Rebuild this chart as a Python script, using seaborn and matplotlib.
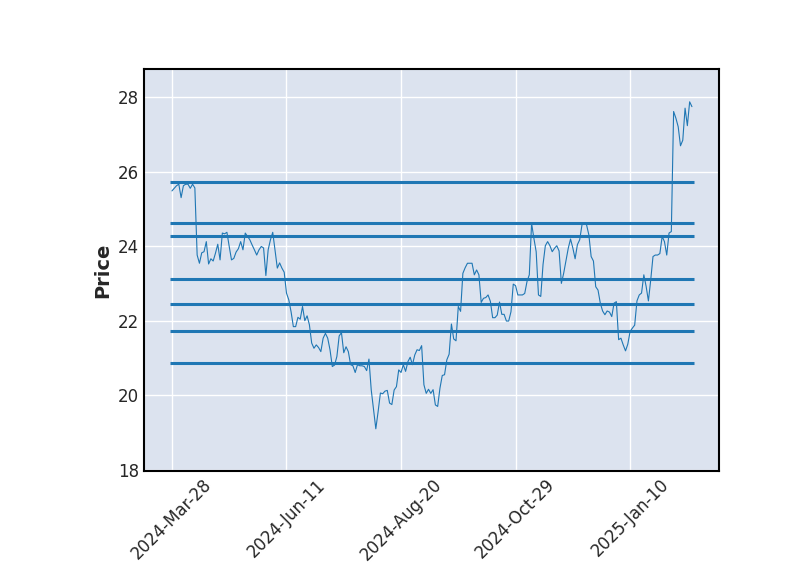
import matplotlib
matplotlib.use("Agg")
import matplotlib.pyplot as plt
import seaborn as sns
import numpy as np
import pandas as pd

# ---- data ----
prices = [
    25.48, 25.55, 25.62, 25.66, 25.30, 25.62, 25.66, 25.66, 25.55, 25.66,
    25.56, 23.76, 23.54, 23.82, 23.85, 24.12, 23.52, 23.66, 23.60, 23.81,
    24.05, 23.63, 24.35, 24.33, 24.37, 23.99, 23.63, 23.67, 23.84, 23.93,
    24.12, 23.90, 24.35, 24.26, 24.17, 24.03, 23.90, 23.76, 23.90, 23.99,
    23.95, 23.21, 23.90, 24.17, 24.37, 23.90, 23.41, 23.55, 23.41, 23.30,
    22.74, 22.56, 22.24, 21.84, 21.84, 22.09, 22.04, 22.38, 22.00, 22.13,
    21.89, 21.40, 21.26, 21.35, 21.28, 21.17, 21.53, 21.66, 21.53, 21.22,
    20.77, 20.81, 21.04, 21.59, 21.68, 21.14, 21.30, 21.17, 20.82, 20.79,
    20.61, 20.82, 20.79, 20.79, 20.77, 20.66, 20.97, 20.14, 19.61, 19.10,
    19.56, 20.06, 20.04, 20.11, 20.13, 19.79, 19.75, 20.14, 20.23, 20.68,
    20.61, 20.82, 20.64, 20.90, 21.02, 20.82, 21.08, 21.22, 21.20, 21.33,
    20.28, 20.05, 20.16, 20.05, 20.15, 19.74, 19.70, 20.19, 20.53, 20.55,
    20.95, 21.10, 21.91, 21.51, 21.46, 22.38, 22.25, 23.27, 23.42, 23.54,
    23.54, 23.54, 23.23, 23.36, 23.23, 22.49, 22.60, 22.62, 22.69, 22.52,
    22.08, 22.08, 22.15, 22.50, 22.17, 22.17, 21.99, 21.99, 22.24, 22.98,
    22.94, 22.69, 22.69, 22.69, 22.73, 23.05, 23.23, 24.61, 24.21, 23.85,
    22.69, 22.65, 23.51, 24.01, 24.12, 24.01, 23.85, 23.94, 24.01, 23.87,
    23.00, 23.27, 23.60, 23.94, 24.19, 23.95, 23.66, 24.04, 24.17, 24.57,
    24.62, 24.57, 24.30, 23.72, 23.60, 22.91, 22.82, 22.47, 22.26, 22.16,
    22.26, 22.23, 22.11, 22.47, 22.51, 21.49, 21.53, 21.35, 21.19, 21.37,
    21.71, 21.80, 21.88, 22.53, 22.69, 22.74, 23.23, 22.92, 22.53, 23.09,
    23.72, 23.76, 23.76, 23.80, 24.26, 24.12, 23.76, 24.35, 24.39, 27.61,
    27.43, 27.20, 26.69, 26.84, 27.70, 27.23, 27.87, 27.74,
]
levels = [25.72, 24.62, 24.27, 23.12, 22.45, 21.73, 20.87]
tick_index = [0, 50, 100, 150, 200]
tick_labels = ["2024-Mar-28", "2024-Jun-11", "2024-Aug-20", "2024-Oct-29", "2025-Jan-10"]
y_ticks = [18, 20, 22, 24, 26, 28]

df = pd.DataFrame({"idx": np.arange(len(prices)), "Price": prices})

sns.set_style("darkgrid", {
    "axes.facecolor": "#DCE3EF",
    "axes.edgecolor": "black",
    "grid.color": "white",
    "axes.linewidth": 1.5,
})
plt.rcParams["font.family"] = ["DejaVu Sans"]

fig = plt.figure(figsize=(8, 5.75), dpi=100)
ax = fig.add_axes([0.18, 0.181, 0.719, 0.699])

sns.lineplot(data=df, x="idx", y="Price", ax=ax, color="#1f77b4", linewidth=0.8)
ax.hlines(levels, xmin=-1, xmax=len(prices), colors="#1f77b4", linewidth=2.2)

ax.set_xlim(-12.2, 238.9)
ax.set_ylim(17.97, 28.75)
ax.set_xticks(tick_index)
ax.set_xticklabels(tick_labels, rotation=45, fontsize=12)
ax.set_yticks(y_ticks)
ax.tick_params(axis="y", labelsize=12)
ax.tick_params(length=0)
ax.set_xlabel("")
ax.set_ylabel("Price", fontsize=14, fontweight="bold")
ax.grid(True, color="white", linewidth=1.0)
for s in ax.spines.values():
    s.set_visible(True)
    s.set_color("black")
    s.set_linewidth(1.5)

fig.savefig("out.png", dpi=100)
